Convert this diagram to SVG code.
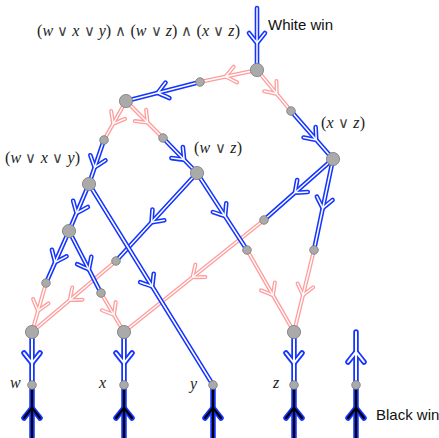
<svg xmlns="http://www.w3.org/2000/svg" xmlns:xlink="http://www.w3.org/1999/xlink" width="439" height="438" viewBox="0 0 439 438">
<style>
.o,.i,.k{fill:none;stroke-linecap:round;stroke-linejoin:round}
.pk .o{stroke:#ff9c9c;stroke-width:4}
.pk .i{stroke:#fff;stroke-width:1.4}
.bl .o{stroke:#1434ff;stroke-width:4.6}
.bl .i{stroke:#fff;stroke-width:1.5}
.tb .o{stroke:#1434ff;stroke-width:5.5}
.tb .i{stroke:#fff;stroke-width:2}
.tb .k{stroke:#000;stroke-width:2.2}
.nb{fill:#aaaaaa;stroke:#7a7a7a;stroke-width:0.8}
.m{font-family:"Liberation Serif","DejaVu Serif",serif;font-size:16px;fill:#222}
.v{font-style:italic}
.op{font-family:"DejaVu Sans",sans-serif;font-weight:200;font-size:14.5px;fill:#444}
.s{font-family:"Liberation Sans","DejaVu Sans",sans-serif;font-size:15px;fill:#111}
</style>
<defs>
<path id="chev" d="M-10,-8 Q-3,-2.5 0,0 Q-3,2.5 -10,8"/>
</defs>
<g id="connectors">
<!-- pink edges -->
<g class="pk"><path class="o" d="M257,70 L200,82"/><use class="o" xlink:href="#chev" transform="translate(225.6,76.6) rotate(168.1)"/><path class="i" d="M257,70 L200,82"/><use class="i" xlink:href="#chev" transform="translate(225.6,76.6) rotate(168.1)"/></g>
<g class="pk"><path class="o" d="M257,70 L291,111"/><use class="o" xlink:href="#chev" transform="translate(276.7,93.8) rotate(50.3)"/><path class="i" d="M257,70 L291,111"/><use class="i" xlink:href="#chev" transform="translate(276.7,93.8) rotate(50.3)"/></g>
<g class="pk"><path class="o" d="M126,101 L104,140"/><use class="o" xlink:href="#chev" transform="translate(113.2,123.6) rotate(119.4)"/><path class="i" d="M126,101 L104,140"/><use class="i" xlink:href="#chev" transform="translate(113.2,123.6) rotate(119.4)"/></g>
<g class="pk"><path class="o" d="M126,101 L163,138"/><use class="o" xlink:href="#chev" transform="translate(147.5,122.5) rotate(45)"/><path class="i" d="M126,101 L163,138"/><use class="i" xlink:href="#chev" transform="translate(147.5,122.5) rotate(45)"/></g>
<g class="pk"><path class="o" d="M46,283 L32,332"/><use class="o" xlink:href="#chev" transform="translate(38,310.9) rotate(105.9)"/><path class="i" d="M46,283 L32,332"/><use class="i" xlink:href="#chev" transform="translate(38,310.9) rotate(105.9)"/></g>
<g class="pk"><path class="o" d="M116,261 L32,332"/><use class="o" xlink:href="#chev" transform="translate(69.8,300) rotate(139.8)"/><path class="i" d="M116,261 L32,332"/><use class="i" xlink:href="#chev" transform="translate(69.8,300) rotate(139.8)"/></g>
<g class="pk"><path class="o" d="M101,293 L124,332"/><use class="o" xlink:href="#chev" transform="translate(113.9,314.8) rotate(59.5)"/><path class="i" d="M101,293 L124,332"/><use class="i" xlink:href="#chev" transform="translate(113.9,314.8) rotate(59.5)"/></g>
<g class="pk"><path class="o" d="M264,220 L124,332"/><use class="o" xlink:href="#chev" transform="translate(192.6,277.1) rotate(141.3)"/><path class="i" d="M264,220 L124,332"/><use class="i" xlink:href="#chev" transform="translate(192.6,277.1) rotate(141.3)"/></g>
<g class="pk"><path class="o" d="M247,250 L294,332"/><use class="o" xlink:href="#chev" transform="translate(272.9,295.1) rotate(60.2)"/><path class="i" d="M247,250 L294,332"/><use class="i" xlink:href="#chev" transform="translate(272.9,295.1) rotate(60.2)"/></g>
<g class="pk"><path class="o" d="M314,250 L294,332"/><use class="o" xlink:href="#chev" transform="translate(303,295.1) rotate(103.7)"/><path class="i" d="M314,250 L294,332"/><use class="i" xlink:href="#chev" transform="translate(303,295.1) rotate(103.7)"/></g>
<!-- blue edges -->
<g class="bl"><path class="o" d="M257,8 L257,70"/><use class="o" xlink:href="#chev" transform="translate(257,43) rotate(90)"/><path class="i" d="M257,8 L257,70"/><use class="i" xlink:href="#chev" transform="translate(257,43) rotate(90)"/></g>
<g class="bl"><path class="o" d="M200,82 L126,101"/><use class="o" xlink:href="#chev" transform="translate(157.8,92.8) rotate(165.6)"/><path class="i" d="M200,82 L126,101"/><use class="i" xlink:href="#chev" transform="translate(157.8,92.8) rotate(165.6)"/></g>
<g class="bl"><path class="o" d="M291,111 L333,159"/><use class="o" xlink:href="#chev" transform="translate(316.2,139.8) rotate(48.8)"/><path class="i" d="M291,111 L333,159"/><use class="i" xlink:href="#chev" transform="translate(316.2,139.8) rotate(48.8)"/></g>
<g class="bl"><path class="o" d="M104,140 L89,184"/><use class="o" xlink:href="#chev" transform="translate(94.7,167.3) rotate(108.8)"/><path class="i" d="M104,140 L89,184"/><use class="i" xlink:href="#chev" transform="translate(94.7,167.3) rotate(108.8)"/></g>
<g class="bl"><path class="o" d="M163,138 L197,173"/><use class="o" xlink:href="#chev" transform="translate(184.1,159.7) rotate(45.8)"/><path class="i" d="M163,138 L197,173"/><use class="i" xlink:href="#chev" transform="translate(184.1,159.7) rotate(45.8)"/></g>
<g class="bl"><path class="o" d="M89,184 L69,231"/><use class="o" xlink:href="#chev" transform="translate(76.6,213.1) rotate(113)"/><path class="i" d="M89,184 L69,231"/><use class="i" xlink:href="#chev" transform="translate(76.6,213.1) rotate(113)"/></g>
<g class="bl"><path class="o" d="M197,173 L116,261"/><use class="o" xlink:href="#chev" transform="translate(151.6,222.3) rotate(132.6)"/><path class="i" d="M197,173 L116,261"/><use class="i" xlink:href="#chev" transform="translate(151.6,222.3) rotate(132.6)"/></g>
<g class="bl"><path class="o" d="M89,184 L213,385"/><use class="o" xlink:href="#chev" transform="translate(152.2,286.5) rotate(58.3)"/><path class="i" d="M89,184 L213,385"/><use class="i" xlink:href="#chev" transform="translate(152.2,286.5) rotate(58.3)"/></g>
<g class="bl"><path class="o" d="M69,231 L46,283"/><use class="o" xlink:href="#chev" transform="translate(55.2,262.2) rotate(113.9)"/><path class="i" d="M69,231 L46,283"/><use class="i" xlink:href="#chev" transform="translate(55.2,262.2) rotate(113.9)"/></g>
<g class="bl"><path class="o" d="M69,231 L101,293"/><use class="o" xlink:href="#chev" transform="translate(88.8,269.4) rotate(62.7)"/><path class="i" d="M69,231 L101,293"/><use class="i" xlink:href="#chev" transform="translate(88.8,269.4) rotate(62.7)"/></g>
<g class="bl"><path class="o" d="M197,173 L247,250"/><use class="o" xlink:href="#chev" transform="translate(225,216.1) rotate(57)"/><path class="i" d="M197,173 L247,250"/><use class="i" xlink:href="#chev" transform="translate(225,216.1) rotate(57)"/></g>
<g class="bl"><path class="o" d="M333,159 L264,220"/><use class="o" xlink:href="#chev" transform="translate(295,192.6) rotate(138.5)"/><path class="i" d="M333,159 L264,220"/><use class="i" xlink:href="#chev" transform="translate(295,192.6) rotate(138.5)"/></g>
<g class="bl"><path class="o" d="M333,159 L314,250"/><use class="o" xlink:href="#chev" transform="translate(322.7,208.1) rotate(101.8)"/><path class="i" d="M333,159 L314,250"/><use class="i" xlink:href="#chev" transform="translate(322.7,208.1) rotate(101.8)"/></g>
<!-- bottom columns -->
<g class="tb"><path class="o" d="M32,332 L32,385"/><use class="o" xlink:href="#chev" transform="translate(32,363) rotate(90)"/><path class="i" d="M32,332 L32,385"/><use class="i" xlink:href="#chev" transform="translate(32,363) rotate(90)"/></g>
<g class="tb"><path class="o" d="M124,332 L124,385"/><use class="o" xlink:href="#chev" transform="translate(124,363) rotate(90)"/><path class="i" d="M124,332 L124,385"/><use class="i" xlink:href="#chev" transform="translate(124,363) rotate(90)"/></g>
<g class="tb"><path class="o" d="M294,332 L294,385"/><use class="o" xlink:href="#chev" transform="translate(294,363) rotate(90)"/><path class="i" d="M294,332 L294,385"/><use class="i" xlink:href="#chev" transform="translate(294,363) rotate(90)"/></g>
<g class="tb"><path class="o" d="M356,385 L356,332"/><use class="o" xlink:href="#chev" transform="translate(356,352) rotate(-90)"/><path class="i" d="M356,385 L356,332"/><use class="i" xlink:href="#chev" transform="translate(356,352) rotate(-90)"/></g>
<g class="tb"><path class="o" d="M32,445 L32,385"/><use class="o" xlink:href="#chev" transform="translate(32,408) rotate(-90)"/><path class="k" d="M32,445 L32,385"/><use class="k" xlink:href="#chev" transform="translate(32,408) rotate(-90)"/></g>
<g class="tb"><path class="o" d="M124,445 L124,385"/><use class="o" xlink:href="#chev" transform="translate(124,408) rotate(-90)"/><path class="k" d="M124,445 L124,385"/><use class="k" xlink:href="#chev" transform="translate(124,408) rotate(-90)"/></g>
<g class="tb"><path class="o" d="M213,445 L213,385"/><use class="o" xlink:href="#chev" transform="translate(213,408) rotate(-90)"/><path class="k" d="M213,445 L213,385"/><use class="k" xlink:href="#chev" transform="translate(213,408) rotate(-90)"/></g>
<g class="tb"><path class="o" d="M294,445 L294,385"/><use class="o" xlink:href="#chev" transform="translate(294,408) rotate(-90)"/><path class="k" d="M294,445 L294,385"/><use class="k" xlink:href="#chev" transform="translate(294,408) rotate(-90)"/></g>
<g class="tb"><path class="o" d="M356,445 L356,385"/><use class="o" xlink:href="#chev" transform="translate(356,408) rotate(-90)"/><path class="k" d="M356,445 L356,385"/><use class="k" xlink:href="#chev" transform="translate(356,408) rotate(-90)"/></g>
</g>
<!-- nodes -->
<g id="nT"><circle class="nb" cx="257" cy="70" r="6.6"/></g>
<g id="nA"><circle class="nb" cx="126" cy="101" r="6.6"/></g>
<g id="nC"><circle class="nb" cx="333" cy="159" r="6.6"/></g>
<g id="nD"><circle class="nb" cx="89" cy="184" r="6.6"/></g>
<g id="nE"><circle class="nb" cx="197" cy="173" r="6.6"/></g>
<g id="nF"><circle class="nb" cx="69" cy="231" r="6.6"/></g>
<g id="nW"><circle class="nb" cx="32" cy="332" r="6.6"/></g>
<g id="nX"><circle class="nb" cx="124" cy="332" r="6.6"/></g>
<g id="nZ"><circle class="nb" cx="294" cy="332" r="6.6"/></g>
<g id="s1"><circle class="nb" cx="200" cy="82" r="4.3"/></g>
<g id="s2"><circle class="nb" cx="291" cy="111" r="4.3"/></g>
<g id="s3"><circle class="nb" cx="104" cy="140" r="4.3"/></g>
<g id="s4"><circle class="nb" cx="163" cy="138" r="4.3"/></g>
<g id="s5"><circle class="nb" cx="46" cy="283" r="4.3"/></g>
<g id="s6"><circle class="nb" cx="101" cy="293" r="4.3"/></g>
<g id="s7"><circle class="nb" cx="116" cy="261" r="4.3"/></g>
<g id="s8"><circle class="nb" cx="247" cy="250" r="4.3"/></g>
<g id="s9"><circle class="nb" cx="264" cy="220" r="4.3"/></g>
<g id="s10"><circle class="nb" cx="314" cy="250" r="4.3"/></g>
<g id="lw"><circle class="nb" cx="32" cy="385" r="4.3"/></g>
<g id="lx"><circle class="nb" cx="124" cy="385" r="4.3"/></g>
<g id="ly"><circle class="nb" cx="213" cy="385" r="4.3"/></g>
<g id="lz"><circle class="nb" cx="294" cy="385" r="4.3"/></g>
<g id="lr"><circle class="nb" cx="356" cy="385" r="4.3"/></g>
<!-- labels -->
<g id="labels">
<text class="m" x="37" y="36" textLength="203" lengthAdjust="spacing">(<tspan class="v">w</tspan> <tspan class="op">∨</tspan> <tspan class="v">x</tspan> <tspan class="op">∨</tspan> <tspan class="v">y</tspan>) <tspan class="op">∧</tspan> (<tspan class="v">w</tspan> <tspan class="op">∨</tspan> <tspan class="v">z</tspan>) <tspan class="op">∧</tspan> (<tspan class="v">x</tspan> <tspan class="op">∨</tspan> <tspan class="v">z</tspan>)</text>
<text class="m" x="5" y="163" textLength="75" lengthAdjust="spacing">(<tspan class="v">w</tspan> <tspan class="op">∨</tspan> <tspan class="v">x</tspan> <tspan class="op">∨</tspan> <tspan class="v">y</tspan>)</text>
<text class="m" x="194" y="153" textLength="48" lengthAdjust="spacing">(<tspan class="v">w</tspan> <tspan class="op">∨</tspan> <tspan class="v">z</tspan>)</text>
<text class="m" x="321" y="128" textLength="44" lengthAdjust="spacing">(<tspan class="v">x</tspan> <tspan class="op">∨</tspan> <tspan class="v">z</tspan>)</text>
<text class="m v" x="10" y="388">w</text>
<text class="m v" x="99" y="388">x</text>
<text class="m v" x="190" y="389">y</text>
<text class="m v" x="273" y="388">z</text>
<text class="s" x="268" y="30">White win</text>
<text class="s" x="376" y="420">Black win</text>
</g>
</svg>
